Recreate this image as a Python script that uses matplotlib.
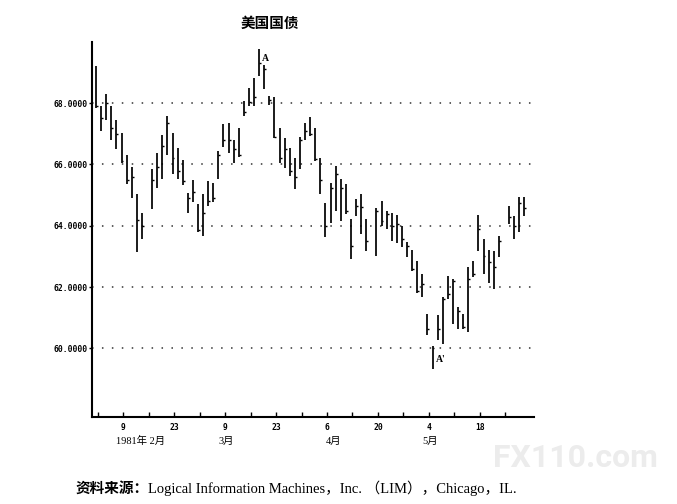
import numpy as np
import pandas as pd
import matplotlib
matplotlib.use("Agg")
import matplotlib.pyplot as plt
from matplotlib.transforms import blended_transform_factory

# ---------------- data ----------------
start_date = "1981-02-02"
end_date = "1981-05-30"
holidays = ["1981-02-16", "1981-04-17", "1981-05-25"]

highs = [69.21, 67.89, 68.30, 67.89, 67.46, 67.01, 66.32, 65.92, 65.03, 64.43,
         65.84, 66.38, 66.97, 67.59, 67.01, 66.54, 66.14, 65.06, 65.49, 64.70,
         65.03, 65.46, 65.38, 66.43, 67.32, 67.35, 66.79, 67.19, 68.08, 68.49,
         68.81, 69.75, 69.24, 68.24, 68.19, 67.19, 66.86, 66.54, 66.22, 66.90,
         67.35, 67.55, 67.19, 66.22, 64.75, 65.40, 65.95, 65.51, 65.35, 64.21,
         64.86, 65.02, 64.21,
         64.59, 64.81, 64.48, 64.43, 64.35, 64.00, 63.48, 63.20, 62.86, 62.42,
         61.12, 60.09, 61.10, 61.67, 62.37, 62.26, 61.34, 61.12, 62.64, 62.86,
         64.35, 63.56, 63.20, 63.18, 63.67,
         64.65, 64.32, 64.94, 64.94]
lows = [67.84, 67.08, 67.46, 66.81, 66.49, 66.03, 65.35, 64.89, 63.14, 63.57,
        64.54, 65.24, 65.51, 66.32, 65.68, 65.51, 65.33, 64.41, 64.76, 63.78,
        63.65, 64.65, 64.76, 65.51, 66.57, 66.38, 66.05, 66.25, 67.57, 67.89,
        67.89, 68.89, 68.45, 67.95, 66.86, 66.05, 65.89, 65.62, 65.19, 65.85,
        66.80, 66.92, 66.11, 65.02, 63.62, 64.10, 64.48, 64.16, 64.37, 62.91,
        64.32, 63.72, 63.18,
        63.02, 64.00, 63.89, 63.51, 63.45, 63.29, 62.97, 62.53, 61.80, 61.67,
        60.42, 59.34, 60.26, 60.15, 61.61, 60.80, 60.64, 60.64, 60.53, 62.32,
        63.18, 62.42, 62.12, 61.94, 62.97,
        64.05, 63.56, 63.78, 64.32]
closes = [67.90, 67.50, 68.00, 67.20, 67.00, 66.10, 65.50, 65.60, 64.20, 64.00,
          65.50, 65.90, 66.60, 67.35, 66.20, 65.80, 65.45, 64.90, 65.10, 63.85,
          64.40, 64.80, 64.90, 66.30, 66.80, 66.80, 66.50, 66.30, 67.70, 68.05,
          68.20, 69.30, 69.10, 68.10, 66.90, 66.20, 66.50, 65.80, 65.60, 66.80,
          67.10, 67.00, 66.16, 65.50, 64.00, 65.24, 65.70, 65.24, 64.48, 63.35,
          64.65, 64.60, 63.50,
          64.48, 64.16, 64.37, 64.00, 64.05, 63.56, 63.35, 62.60, 61.88, 62.10,
          60.64, 60.02, 60.64, 61.60, 61.77, 62.19, 61.23, 60.71, 62.26, 62.42,
          63.89, 63.02, 62.80, 62.64, 63.50,
          64.27, 64.00, 64.75, 64.59]

week_labels = ["", "9", "", "23", "", "9", "", "23", "", "6", "", "20", "", "4", "", "18", ""]
month_labels = ["1981年 2月", "3月", "4月", "5月"]
month_label_pos = [8.7, 25.6, 46.6, 65.6]
y_ticks = [60, 62, 64, 66, 68]
annotations = [("A", 33.2, 69.45), ("A'", 67.6, 59.65)]

title = "美国国债"
source_head = "资料来源："
source_tail = "Logical Information Machines，Inc. （LIM），Chicago，IL."

# ---------------- positions ----------------
trade_days = pd.bdate_range(start_date, end_date)
trade_days = trade_days[~trade_days.isin(pd.to_datetime(holidays))]
x = np.busday_count(np.datetime64(start_date),
                    trade_days.values.astype("datetime64[D]"))
x = np.asarray(x, dtype=float)

plt.rcParams['font.family'] = ['DejaVu Sans', 'Noto Sans CJK SC']

fig = plt.figure(figsize=(6.77, 5.04), dpi=100)
ax = fig.add_axes([0.1355, 0.172, 0.6533, 0.7452])

ax.set_xlim(-0.84, 85.9)
ax.set_ylim(57.75, 70.0)

# grid lines
for yv in y_ticks:
    ax.axhline(yv, color="#333333", lw=1.1, ls=(0, (1, 5.5)), zorder=1)

# bars
ax.vlines(x, lows, highs, color="black", lw=1.25, zorder=3)
ax.hlines(closes, x, x + 0.38, color="black", lw=1.0, zorder=3)

# spines
for s in ["top", "right"]:
    ax.spines[s].set_visible(False)
for s in ["left", "bottom"]:
    ax.spines[s].set_linewidth(1.5)
    ax.spines[s].set_color("black")

ax.set_yticks(y_ticks)
ax.set_yticklabels([f"{v:.4f}" for v in y_ticks],
                   fontdict=dict(family="DejaVu Sans Mono", weight="bold", size=5.8))
ax.tick_params(axis="y", direction="out", length=2.5, width=1, pad=0.8)

xt = np.arange(len(week_labels)) * 5 + 0.3
ax.set_xticks(xt)
ax.set_xticklabels(week_labels,
                   fontdict=dict(family="DejaVu Sans Mono", weight="bold", size=5.8))
ax.tick_params(axis="x", direction="in", length=3.5, width=1, pad=4)

trans = blended_transform_factory(ax.transData, ax.transAxes)
for lab, pos in zip(month_labels, month_label_pos):
    ax.text(pos, -0.063, lab, transform=trans, ha="center", va="center",
            fontsize=7.5, family=["Liberation Serif", "Noto Sans CJK SC"])

for lab, xx, yy in annotations:
    ax.text(xx, yy, lab, ha="center", va="center", fontsize=7,
            weight="bold", family="Liberation Serif")

fig.text(270 / 677, 1 - 22.5 / 504, title, ha="center", va="center",
         fontsize=10.5, weight="bold", family="Noto Sans CJK SC")

fig.text(575 / 677, 1 - 458 / 504, "FX110.com", ha="center", va="center",
         fontsize=23, weight="bold", color="#ececec", family="Roboto", zorder=0)

t1 = fig.text(75 / 677, 1 - 488 / 504, source_head, ha="left", va="center",
              fontsize=10.5, weight="bold", family="Noto Sans CJK SC")
fig.canvas.draw()
ax.annotate(source_tail, xy=(1, 0.5), xycoords=t1, ha="left", va="center",
            fontsize=10.5, family=["Liberation Serif", "Noto Sans CJK SC"],
            annotation_clip=False)

fig.savefig("out.png", dpi=100)
